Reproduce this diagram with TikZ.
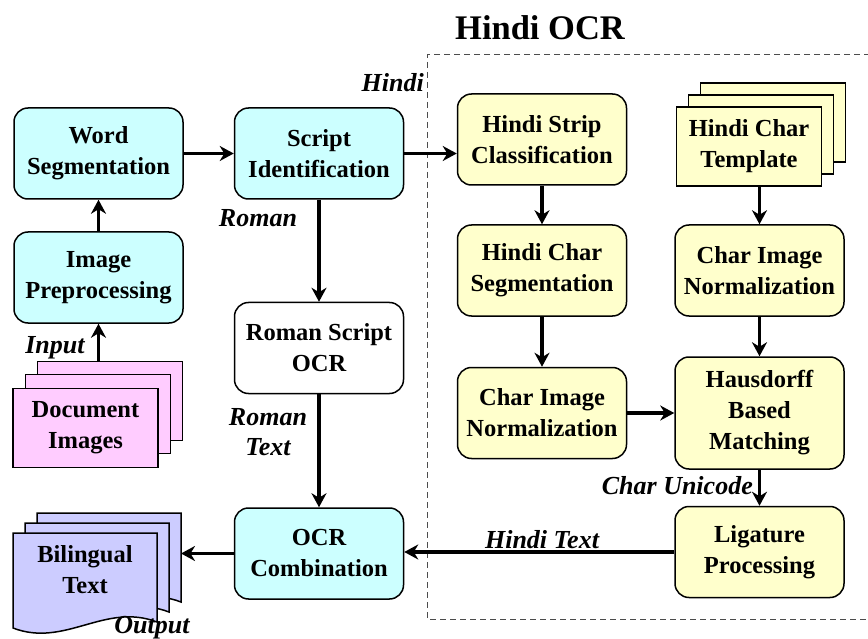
\documentclass[tikz,border=0pt]{standalone}
\usepackage{fontspec}
\setmainfont{Liberation Serif}
\usetikzlibrary{arrows.meta}
\definecolor{cyanfill}{HTML}{CCFFFF}
\definecolor{yelfill}{HTML}{FFFFCC}
\definecolor{pinkfill}{HTML}{FFCCFF}
\definecolor{lavfill}{HTML}{CCCCFF}
\tikzset{
  rbox/.style={draw=black, line width=1.5pt, rounded corners=14pt, minimum width=169pt, minimum height=91pt, align=center, inner sep=0pt, font=\fontsize{24.5}{31}\selectfont\bfseries},
  cbox/.style={rbox, fill=cyanfill},
  ybox/.style={rbox, fill=yelfill},
  wbox/.style={rbox, fill=white},
  page/.style={draw=black, line width=1.5pt, minimum width=145pt, minimum height=79pt, align=center, inner sep=0pt, font=\fontsize{24.5}{31}\selectfont\bfseries},
  arr/.style={line width=3.6pt, -{Stealth[length=14pt,width=15pt,inset=4.5pt]}},
  lbl/.style={font=\fontsize{26}{30}\selectfont\bfseries\itshape, inner sep=0pt, align=center},
}
\begin{document}
\begin{tikzpicture}[x=1pt,y=-1pt]
\useasboundingbox (0,0) rectangle (868,639);
\fill[white] (0,0) rectangle (868,639);
% dashed Hindi OCR region
\draw[gray!60!black, line width=1pt, dash pattern=on 6pt off 4pt] (880,55) -- (427,55) -- (427,619) -- (880,619);
\node[font=\fontsize{34.5}{40}\selectfont\bfseries, inner sep=0pt] (title) at (540,28) {Hindi OCR};
% left column
\node[cbox] (word) at (98.5,153.5) {Word\\Segmentation};
\node[cbox] (pre) at (98.5,277.5) {Image\\Preprocessing};
\node[page, fill=pinkfill] (doc3) at (110,401) {};
\node[page, fill=pinkfill] (doc2) at (98,414) {};
\node[page, fill=pinkfill] (doc1) at (85.5,428) {Document\\Images};
% middle column
\node[cbox] (script) at (319,153.5) {Script\\Identification};
\node[wbox] (roman) at (319,348) {Roman Script\\OCR};
\node[cbox] (ocr) at (319,553.5) {OCR\\Combination};
% Hindi column 1
\node[ybox] (strip) at (542,139.5) {Hindi Strip\\Classification};
\node[ybox] (hcs) at (542,270.5) {Hindi Char\\Segmentation};
\node[ybox] (cnl) at (542,413) {Char Image\\Normalization};
% Hindi column 2
\node[page, fill=yelfill] (tmpl3) at (773,122.5) {};
\node[page, fill=yelfill] (tmpl2) at (761,134.5) {};
\node[page, fill=yelfill] (tmpl1) at (749,146.5) {Hindi Char\\Template};
\node[ybox] (cnr) at (759.5,270.5) {Char Image\\Normalization};
\node[ybox, minimum height=112pt] (haus) at (759.5,413) {Hausdorff\\Based\\Matching};
\node[ybox] (lig) at (759.5,552) {Ligature\\Processing};
% Bilingual text (document shapes)
\foreach \dx/\dy in {24/-20, 12/-10} {
  \draw[line width=1.5pt, fill=lavfill, shift={(\dx,\dy)}] (13,533) -- (157,533) -- (157,622) .. controls (105,602) and (65,648) .. (13,628) -- cycle;
}
\draw[line width=1.5pt, fill=lavfill] (13,533) -- (157,533) -- (157,622) .. controls (105,602) and (65,648) .. (13,628) -- cycle;
\node[font=\fontsize{24.5}{31}\selectfont\bfseries, align=center, inner sep=0pt] (bil) at (85,570) {Bilingual\\Text};
\coordinate (bilback) at (181,555);
% connectors
\draw[arr] (pre.south |- doc3.north) -- (pre.south);
\draw[arr] (pre.north) -- (word.south);
\draw[arr] (word.east) -- (script.west);
\draw[arr] (script.east) -- (script.east -| strip.west);
\draw[arr] (script.south) -- (roman.north);
\draw[arr] (roman.south) -- (ocr.north);
\draw[arr] (strip.south) -- (hcs.north);
\draw[arr] (hcs.south) -- (cnl.north);
\draw[arr] (cnr.north |- tmpl1.south) -- (cnr.north);
\draw[arr] (cnr.south) -- (haus.north);
\draw[arr] (cnl.east) -- (cnl.east -| haus.west);
\draw[arr] (haus.south) -- (lig.north);
\draw[arr] (lig.west) -- (lig.west -| ocr.east);
\draw[arr] (ocr.west) -- (ocr.west -| bilback);
% labels
\node[lbl, anchor=east] (lhindi) at (424,83) {Hindi};
\node[lbl] (lroman) at (258,218) {Roman};
\node[lbl] (linput) at (55,348) {Input};
\node[lbl] (lromantext) at (268,432) {Roman\\Text};
\node[lbl, anchor=east] (lunicode) at (753,486) {Char Unicode};
\node[lbl, anchor=base] (lhinditext) at (542,548) {Hindi Text};
\node[lbl, anchor=base] (loutput) at (152,633) {Output};
\end{tikzpicture}
\end{document}
